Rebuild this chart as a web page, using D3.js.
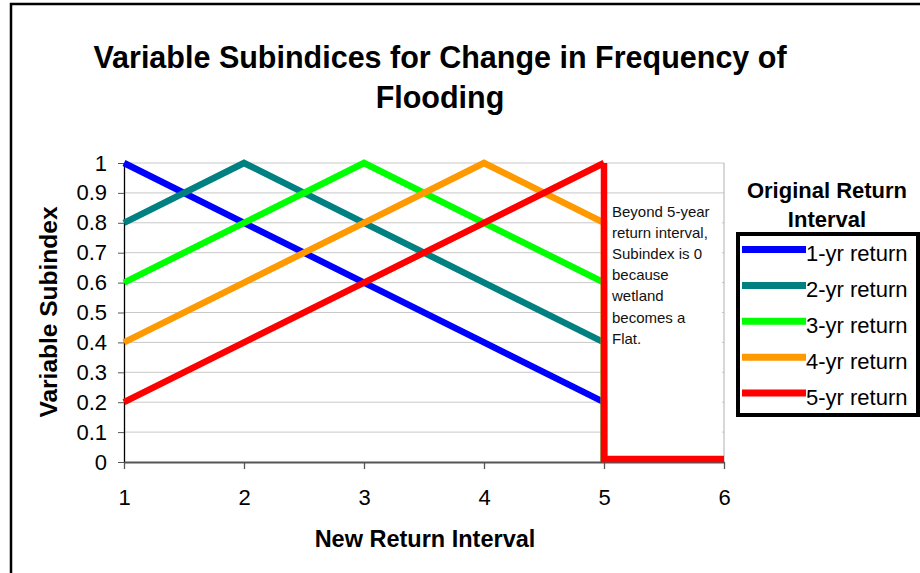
<!DOCTYPE html>
<html><head><meta charset="utf-8">
<script src="https://cdn.jsdelivr.net/npm/d3@7"></script>
<style>body{margin:0;background:#fff}svg{display:block;font-family:"Liberation Sans",Arial,sans-serif}</style>
</head><body>
<svg id="c" width="920" height="573"></svg>
<script>
const xTicks = [1, 2, 3, 4, 5, 6];
const yTicks = [0, 0.1, 0.2, 0.3, 0.4, 0.5, 0.6, 0.7, 0.8, 0.9, 1];
const seriesNames = ["1-yr return", "2-yr return", "3-yr return", "4-yr return", "5-yr return"];
const colors = ["#0000FF", "#008080", "#00FF00", "#FF9900", "#FF0000"];
const xVals = [1, 2, 3, 4, 5];
const oneYr   = [1.0, 0.8, 0.6, 0.4, 0.2];
const twoYr   = [0.8, 1.0, 0.8, 0.6, 0.4];
const threeYr = [0.6, 0.8, 1.0, 0.8, 0.6];
const fourYr  = [0.4, 0.6, 0.8, 1.0, 0.8];
const fiveYr  = [0.2, 0.4, 0.6, 0.8, 1.0];
const beyondX = [5, 6];
const beyondY = [0.01, 0.01];
const noteLines = ["Beyond 5-year", "return interval,", "Subindex is 0", "because", "wetland", "becomes a", "Flat."];

const FONT = "Liberation Sans, Arial, sans-serif";
const svg = d3.select("#c");
const x = d3.scaleLinear().domain([1, 6]).range([124, 724]);
const y = d3.scaleLinear().domain([0, 1]).range([462, 163]);

// outer frame (left + top)
svg.append("path").attr("d", "M11,573 V4 H920").attr("fill", "none").attr("stroke", "#000").attr("stroke-width", 2.5);

// title
svg.append("text").attr("x", 440).attr("y", 68).attr("text-anchor", "middle")
  .attr("font-size", 30.5).attr("font-weight", "bold").text("Variable Subindices for Change in Frequency of");
svg.append("text").attr("x", 440).attr("y", 108).attr("text-anchor", "middle")
  .attr("font-size", 30.5).attr("font-weight", "bold").text("Flooding");

// gridlines
svg.append("g").selectAll("line").data(yTicks.filter(d => d > 0)).join("line")
  .attr("x1", x(1)).attr("x2", x(6)).attr("y1", d => y(d)).attr("y2", d => y(d))
  .attr("stroke", "#c8c8c8").attr("stroke-width", 1);
// right edge of plot area
svg.append("line").attr("x1", x(6)).attr("x2", x(6)).attr("y1", y(1)).attr("y2", y(0))
  .attr("stroke", "#b0b0b0").attr("stroke-width", 1);

// note box
svg.append("rect").attr("x", 607).attr("y", 196).attr("width", 115).attr("height", 261).attr("fill", "#fff");
const note = svg.append("text").attr("font-size", 15).attr("fill", "#111");
noteLines.forEach((t, i) => note.append("tspan").attr("x", 612).attr("y", 217 + i * 21.1).text(t));

// axes
const yAxis = svg.append("g").attr("transform", `translate(${x(1)},0)`)
  .call(d3.axisLeft(y).tickValues(yTicks).tickFormat(d3.format("~g")).tickSize(6).tickSizeOuter(0));
yAxis.select(".domain").attr("stroke", "#000").attr("stroke-width", 1.3);
yAxis.selectAll(".tick line").attr("stroke", "#555");
yAxis.selectAll(".tick text").attr("font-size", 22).attr("fill", "#000").attr("x", -17)
  .attr("font-family", FONT);

const xAxis = svg.append("g").attr("transform", `translate(0,${y(0)})`)
  .call(d3.axisBottom(x).tickValues(xTicks).tickFormat(d3.format("d")).tickSize(7).tickSizeOuter(0));
xAxis.select(".domain").attr("stroke", "#555").attr("stroke-width", 2);
xAxis.selectAll(".tick line").attr("stroke", "#555").attr("stroke-width", 1.3);
xAxis.selectAll(".tick text").attr("font-size", 22).attr("fill", "#000").attr("y", 27)
  .attr("font-family", FONT);

// axis titles
svg.append("text").attr("transform", `translate(57,312) rotate(-90)`).attr("text-anchor", "middle")
  .attr("font-size", 24.5).attr("font-weight", "bold").text("Variable Subindex");
svg.append("text").attr("x", 425).attr("y", 547).attr("text-anchor", "middle")
  .attr("font-size", 23.5).attr("font-weight", "bold").text("New Return Interval");

// series
const allY = [oneYr, twoYr, threeYr, fourYr, fiveYr];
const line = d3.line().x(d => x(d[0])).y(d => y(d[1]));
allY.forEach((vals, i) => {
  const pts = xVals.map((xv, j) => [xv, vals[j]]);
  if (i < 4) pts.push([5, 0]);
  svg.append("path").attr("d", line(pts)).attr("fill", "none").attr("stroke", colors[i])
    .attr("stroke-width", 6.5).attr("stroke-linejoin", "miter").attr("stroke-miterlimit", 10);
});
// 5-yr drop and flat beyond 5
const drop = [[xVals[4], fiveYr[4]], [beyondX[0], beyondY[0]], [beyondX[1], beyondY[1]]];
svg.append("path").attr("d", line(drop)).attr("fill", "none").attr("stroke", colors[4])
  .attr("stroke-width", 6.5).attr("stroke-linejoin", "miter");

// legend
svg.append("text").attr("x", 827).attr("y", 198).attr("text-anchor", "middle")
  .attr("font-size", 22).attr("font-weight", "bold").text("Original Return");
svg.append("text").attr("x", 827).attr("y", 227).attr("text-anchor", "middle")
  .attr("font-size", 22).attr("font-weight", "bold").text("Interval");
svg.append("rect").attr("x", 738).attr("y", 234).attr("width", 180).attr("height", 181)
  .attr("fill", "#fff").attr("stroke", "#000").attr("stroke-width", 4);
const leg = svg.append("g").selectAll("g").data(seriesNames).join("g")
  .attr("transform", (d, i) => `translate(0,${249.5 + i * 35.9})`);
leg.append("line").attr("x1", 742).attr("x2", 806).attr("y1", 0).attr("y2", 0)
  .attr("stroke", (d, i) => colors[i]).attr("stroke-width", 7);
leg.append("text").attr("x", 806).attr("y", 11.5).attr("font-size", 22).attr("fill", "#000").text(d => d);
</script>
</body></html>
